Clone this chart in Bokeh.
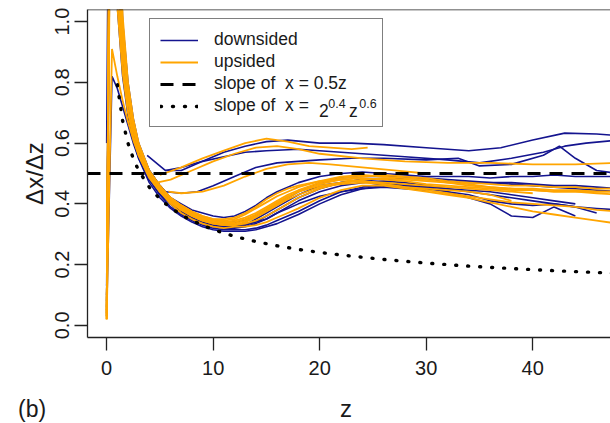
from bokeh.plotting import figure
from bokeh.layouts import column
from bokeh.models import (Range1d, Span, Legend, LegendItem, Label, FixedTicker,
                          PrintfTickFormatter, Div)
from bokeh.embed import file_html
from bokeh.resources import INLINE

# ---------------- data ----------------
Z = [0, 0.5, 1, 1.5, 2, 2.5, 3, 4, 5, 6, 7, 8, 9, 10, 11, 12, 13, 14, 15, 16, 17, 18,
     20, 22, 24, 26, 28, 30, 32, 34, 36, 38, 40, 42, 44, 46, 48]

# downsided runs sharing the common z grid
down_1 = [0.13, 2.5, 1.20, 0.90, 0.74, 0.64, 0.57,
          0.48, 0.43, 0.40, 0.37, 0.35, 0.34, 0.33, 0.325, 0.325,
          0.33, 0.35, 0.37, 0.39, 0.41, 0.43,
          0.46, 0.47, 0.48, 0.48, 0.485, 0.48, 0.475, 0.47, 0.47, 0.465, 0.46, 0.455, 0.45, 0.445, 0.44]
down_2 = [0.06, 2.8, 1.35, 0.95, 0.77, 0.66, 0.59,
          0.50, 0.45, 0.41, 0.38, 0.36, 0.345, 0.335, 0.33, 0.33,
          0.335, 0.34, 0.35, 0.37, 0.39, 0.41,
          0.44, 0.46, 0.47, 0.475, 0.47, 0.46, 0.45, 0.44, 0.43, 0.42, 0.41, 0.40, 0.39, 0.385, 0.38]
down_3 = [0.10, 2.0, 1.05, 0.82, 0.69, 0.61, 0.55,
          0.47, 0.42, 0.385, 0.36, 0.34, 0.325, 0.315, 0.31, 0.31,
          0.31, 0.315, 0.325, 0.335, 0.35, 0.365,
          0.40, 0.43, 0.45, 0.46, 0.455, 0.45, 0.44, 0.43, 0.41, 0.40, 0.395, 0.40, 0.39, 0.37]
down_4 = [0.60, 3.0, 1.5, 1.0, 0.80, 0.68, 0.60,
          0.51, 0.46, 0.42, 0.39, 0.37, 0.355, 0.345, 0.34, 0.34,
          0.345, 0.36, 0.38, 0.40, 0.42, 0.44,
          0.47, 0.485, 0.49, 0.49, 0.49, 0.485, 0.48, 0.475, 0.47, 0.47, 0.465, 0.46, 0.46, 0.455, 0.45]
down_5 = [0.04, 0.82, 0.78, 0.72, 0.66, 0.60, 0.55,
          0.48, 0.43, 0.39, 0.365, 0.345, 0.33, 0.32, 0.315, 0.315,
          0.315, 0.32, 0.33, 0.345, 0.36, 0.375,
          0.41, 0.44, 0.455, 0.465, 0.46, 0.455, 0.45, 0.445, 0.44, 0.43, 0.42, 0.41, 0.40]
down_6 = [0.08, 2.4, 1.25, 0.92, 0.76, 0.66, 0.59,
          0.51, 0.46, 0.42, 0.40, 0.38, 0.37, 0.36, 0.355, 0.36,
          0.375, 0.395, 0.42, 0.44, 0.455, 0.47,
          0.49, 0.50, 0.505, 0.50, 0.495, 0.49, 0.49, 0.49, 0.485, 0.49, 0.49, 0.495, 0.49, 0.49, 0.49]
down_7 = [0.05, 2.6, 1.3, 0.93, 0.75, 0.64, 0.57,
          0.49, 0.44, 0.40, 0.375, 0.355, 0.34, 0.33, 0.325, 0.325,
          0.33, 0.34, 0.36, 0.38, 0.40, 0.42,
          0.45, 0.47, 0.48, 0.47, 0.46, 0.455, 0.44, 0.42, 0.40, 0.36, 0.355, 0.39, 0.36]
down_8 = [0.03, 2.3, 1.15, 0.88, 0.72, 0.63, 0.56,
          0.48, 0.435, 0.40, 0.37, 0.35, 0.335, 0.325, 0.32, 0.32,
          0.325, 0.335, 0.35, 0.37, 0.385, 0.40,
          0.425, 0.44, 0.45, 0.455, 0.45, 0.445]

# downsided runs that start later and stay high
down_hi1_z = [3.8, 5.5, 7, 9, 11, 13, 15, 17, 20, 23, 26, 30, 34, 37, 40, 43, 46, 48]
down_hi1 = [0.56, 0.51, 0.51, 0.54, 0.57, 0.59, 0.605, 0.61, 0.60, 0.60, 0.595, 0.585,
            0.575, 0.585, 0.61, 0.633, 0.63, 0.625]
down_hi2_z = [5.5, 7, 9, 11, 13, 15, 18, 20, 24, 28, 32, 35, 38, 41, 43, 45, 48]
down_hi2 = [0.51, 0.52, 0.54, 0.555, 0.57, 0.575, 0.58, 0.575, 0.565, 0.555, 0.545,
            0.535, 0.55, 0.57, 0.59, 0.60, 0.61]
down_hi3_z = [5.5, 7, 8.5, 10, 12, 14, 16, 18, 20, 23, 26, 30, 33, 35, 38, 41, 42.5, 44, 46, 48]
down_hi3 = [0.44, 0.435, 0.44, 0.46, 0.49, 0.52, 0.535, 0.54, 0.545, 0.55, 0.55, 0.545,
            0.55, 0.525, 0.53, 0.56, 0.59, 0.55, 0.51, 0.50]

# upsided runs sharing the common z grid
up_1 = [0.02, 0.91, 0.82, 0.74, 0.67, 0.61, 0.56,
        0.49, 0.44, 0.41, 0.38, 0.36, 0.345, 0.335, 0.33, 0.33,
        0.335, 0.345, 0.36, 0.38, 0.40, 0.42,
        0.45, 0.47, 0.48, 0.485, 0.48, 0.475, 0.47, 0.46, 0.455, 0.45, 0.445, 0.44, 0.44, 0.435, 0.43]
up_2 = [0.02, 2.4, 1.2, 0.9, 0.74, 0.645, 0.58,
        0.50, 0.45, 0.415, 0.39, 0.37, 0.355, 0.345, 0.34, 0.345,
        0.355, 0.37, 0.39, 0.41, 0.43, 0.445,
        0.47, 0.485, 0.49, 0.495, 0.49, 0.485, 0.475, 0.47, 0.465, 0.46, 0.46, 0.455, 0.455, 0.45, 0.45]
up_3 = [0.03, 2.6, 1.3, 0.94, 0.76, 0.65, 0.58,
        0.49, 0.44, 0.40, 0.37, 0.35, 0.335, 0.325, 0.32, 0.325,
        0.325, 0.33, 0.34, 0.355, 0.37, 0.385,
        0.42, 0.445, 0.46, 0.46, 0.45, 0.44, 0.43, 0.42, 0.405, 0.39, 0.375, 0.365, 0.355, 0.345, 0.335]
up_4 = [0.04, 2.2, 1.12, 0.86, 0.71, 0.625, 0.565,
        0.49, 0.445, 0.41, 0.385, 0.365, 0.35, 0.34, 0.335, 0.335,
        0.345, 0.36, 0.38, 0.40, 0.42, 0.44,
        0.465, 0.48, 0.485, 0.48, 0.475, 0.465, 0.46, 0.455, 0.45, 0.445, 0.445, 0.44, 0.44, 0.44, 0.44]
up_5 = [0.02, 2.9, 1.5, 1.02, 0.80, 0.68, 0.60,
        0.51, 0.46, 0.42, 0.395, 0.375, 0.36, 0.35, 0.345, 0.35,
        0.365, 0.385, 0.405, 0.425, 0.44, 0.455,
        0.475, 0.49, 0.495, 0.49, 0.485, 0.48, 0.47, 0.465, 0.455, 0.45, 0.45, 0.445, 0.445, 0.44, 0.44]
up_6 = [0.05, 2.0, 1.05, 0.83, 0.70, 0.62, 0.56,
        0.485, 0.44, 0.405, 0.38, 0.36, 0.345, 0.335, 0.33, 0.33,
        0.34, 0.355, 0.375, 0.395, 0.415, 0.43,
        0.455, 0.465, 0.47, 0.465, 0.455, 0.445, 0.435, 0.425, 0.415, 0.405, 0.40, 0.395, 0.39, 0.38, 0.375]
up_7 = [0.03, 2.5, 1.25, 0.92, 0.75, 0.65, 0.585,
        0.50, 0.455, 0.42, 0.395, 0.375, 0.36, 0.35, 0.35, 0.355,
        0.37, 0.39, 0.415, 0.435, 0.45, 0.46,
        0.475, 0.48, 0.475, 0.465, 0.455, 0.45, 0.445, 0.44, 0.43, 0.41]
up_8 = [0.02, 2.7, 1.4, 0.98, 0.78, 0.67, 0.595,
        0.505, 0.455, 0.42, 0.39, 0.37, 0.355, 0.345, 0.34, 0.34,
        0.35, 0.365, 0.385, 0.405, 0.425, 0.44,
        0.46, 0.47, 0.475, 0.47, 0.465, 0.46, 0.455, 0.45, 0.445, 0.44, 0.435]

# upsided runs that start later and stay high
up_hi1_z = [5, 7, 9, 11, 13, 15, 17, 19, 21, 23, 24.5]
up_hi1 = [0.495, 0.52, 0.55, 0.575, 0.60, 0.615, 0.605, 0.59, 0.585, 0.58, 0.585]
up_hi2_z = [4.7, 6, 8, 10, 12, 14, 16, 18, 20, 24, 28, 32, 36, 40, 44, 48]
up_hi2 = [0.47, 0.48, 0.51, 0.54, 0.565, 0.585, 0.59, 0.58, 0.565, 0.55, 0.54, 0.535,
          0.535, 0.53, 0.53, 0.535]
up_hi3_z = [5.8, 7, 9, 11, 13, 15, 17, 19, 21, 24, 27, 30]
up_hi3 = [0.44, 0.435, 0.44, 0.46, 0.49, 0.515, 0.53, 0.535, 0.53, 0.52, 0.51, 0.50]

# reference slopes
half_slope = 0.5
power_z = [1, 1.5, 2, 2.5, 3, 4, 5, 6, 7, 8, 10, 12, 14, 16, 18, 20, 23, 26, 30, 34, 38,
           42, 46, 48]
power_slope = [0.792, 0.673, 0.600, 0.549, 0.510, 0.455, 0.416, 0.387, 0.364, 0.345, 0.315,
               0.293, 0.276, 0.262, 0.250, 0.240, 0.228, 0.217, 0.205, 0.195, 0.187, 0.180,
               0.174, 0.171]

x_ticks = [0, 10, 20, 30, 40]
y_ticks = [0.0, 0.2, 0.4, 0.6, 0.8, 1.0]
x_title = "z"
y_title = "Δx/Δz"
panel_tag = "(b)"

down_grid = [down_1, down_2, down_3, down_4, down_5, down_6, down_7, down_8]
up_grid = [up_1, up_2, up_3, up_4, up_5, up_6, up_7, up_8]
down_hi = [(down_hi1_z, down_hi1), (down_hi2_z, down_hi2), (down_hi3_z, down_hi3)]
up_hi = [(up_hi1_z, up_hi1), (up_hi2_z, up_hi2), (up_hi3_z, up_hi3)]

# ---------------- styling ----------------
BLUE = "#14148f"
ORANGE = "#ffa500"
INK = "#222222"
TXT = "#1a1a1a"
FONT = "Liberation Sans"

p = figure(width=610, height=390, output_backend="svg", toolbar_location=None,
           title=None,
           x_range=Range1d(-1.8, 47.3), y_range=Range1d(-0.04, 1.04),
           min_border_left=87, min_border_right=0, min_border_top=9,
           min_border_bottom=53, outline_line_color=None,
           background_fill_color="white", border_fill_color="white")
p.grid.visible = False

blue_r = []
for vals in down_grid:
    blue_r.append(p.line(Z[:len(vals)], vals, line_color=BLUE, line_width=1.6))
for zz, vals in down_hi:
    blue_r.append(p.line(zz, vals, line_color=BLUE, line_width=1.6))

orange_r = []
for vals in up_grid:
    orange_r.append(p.line(Z[:len(vals)], vals, line_color=ORANGE, line_width=1.8))
for zz, vals in up_hi:
    orange_r.append(p.line(zz, vals, line_color=ORANGE, line_width=1.8))

dash_r = p.line([p.x_range.start, p.x_range.end], [half_slope, half_slope],
                line_color="black", line_width=3.2, line_dash="13 9")
dot_r = p.line(power_z, power_slope, line_color="black", line_width=3.4,
               line_dash="1 11", line_cap="round")

# frame top edge
p.add_layout(Span(location=p.y_range.end, dimension="width", line_color=INK,
                  line_width=1.3))

for ax, ticks in ((p.xaxis[0], x_ticks), (p.yaxis[0], y_ticks)):
    ax.ticker = FixedTicker(ticks=ticks)
    ax.major_tick_out = 13
    ax.major_tick_in = 0
    ax.minor_tick_out = 0
    ax.minor_tick_in = 0
    ax.axis_line_color = INK
    ax.axis_line_width = 1.3
    ax.major_tick_line_color = INK
    ax.major_tick_line_width = 1.3
    ax.major_label_text_font = FONT
    ax.major_label_text_font_size = "20px"
    ax.major_label_text_color = TXT
    ax.axis_label_text_font = FONT
    ax.axis_label_text_font_style = "normal"
    ax.axis_label_text_color = TXT

p.xaxis[0].major_label_standoff = 10

p.yaxis[0].axis_label = y_title
p.yaxis[0].axis_label_text_font_size = "24px"
p.yaxis[0].formatter = PrintfTickFormatter(format="%.1f")
p.yaxis[0].major_label_orientation = "vertical"
p.yaxis[0].major_label_standoff = 5
p.yaxis[0].axis_label_standoff = 5

NB = "\u00a0"
legend = Legend(items=[
    LegendItem(label="downsided", renderers=[blue_r[0]]),
    LegendItem(label="upsided", renderers=[orange_r[0]]),
    LegendItem(label="slope of" + NB + NB + "x = 0.5z", renderers=[dash_r]),
    LegendItem(label="slope of" + NB + NB + "x =", renderers=[dot_r]),
], location=(62, 210), margin=0, padding=10, spacing=1,
   label_height=20, glyph_height=20, glyph_width=38, label_standoff=16,
   label_width=158, label_text_font=FONT, label_text_font_size="17.5px",
   label_text_color=TXT, border_line_color="black", border_line_width=1.3,
   background_fill_alpha=0.0)
p.add_layout(legend, "center")

# formula pieces of the last legend entry
for txt, zx, vy, size in (("2", 19.93, 0.706, "17.5px"), ("0.4", 20.80, 0.731, "12.5px"),
                          ("z", 22.75, 0.706, "17.5px"), ("0.6", 23.71, 0.731, "12.5px")):
    p.add_layout(Label(x=zx, y=vy, text=txt, text_font=FONT, text_font_size=size,
                       text_color=TXT, text_baseline="alphabetic", text_align="left"))

# strip under the chart: panel tag and x axis title
strip_html = (
    '<div style="position:relative;width:610px;height:33px;'
    "font-family:'Liberation Sans',sans-serif;color:" + TXT + ';background:white;">'
    '<span style="position:absolute;left:18px;top:6px;font-size:23px;'
    'line-height:normal;white-space:nowrap;">' + panel_tag + '</span>'
    '<span style="position:absolute;left:296px;width:100px;text-align:center;'
    'top:5px;font-size:24px;line-height:normal;">' + x_title + '</span>'
    '</div>')
strip = Div(text=strip_html, width=610, height=33, margin=0)

page = column(p, strip, spacing=0)
open("out.html", "w").write(file_html(page, INLINE))
